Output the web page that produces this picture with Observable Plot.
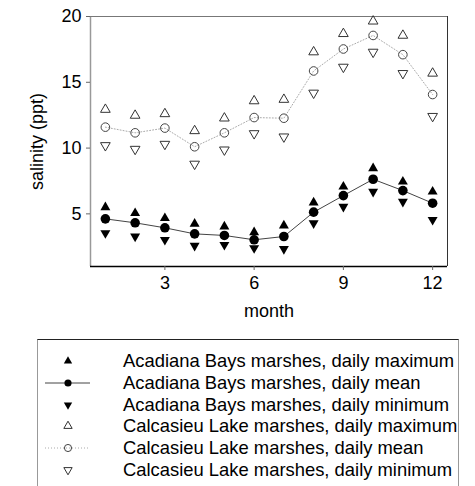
<!DOCTYPE html>
<html><head><meta charset="utf-8">
<script src="https://cdn.jsdelivr.net/npm/d3@7"></script>
<script src="https://cdn.jsdelivr.net/npm/@observablehq/plot@0.6"></script>
<style>
body{margin:0;background:#fff;font-family:"Liberation Sans",Arial,sans-serif;}
#legend{position:absolute;left:37px;top:339px;width:422px;height:160px;border-top:1px solid #222;border-left:1px solid #999;border-right:1px solid #999;padding-top:10px;box-sizing:border-box;}
.row{height:21.8px;display:flex;align-items:center;font-size:18.4px;color:#000;}
.row svg{width:85px;height:22px;flex:none;}
</style></head><body>
<div id="chart"></div>
<div id="legend"></div>
<script>
const months = [1,2,3,4,5,6,7,8,9,10,11,12];
const acadianaMax  = [5.5,5.05,4.67,4.24,4.04,3.6,4.11,5.86,7.07,8.46,7.45,6.69];
const acadianaMean = [4.62,4.32,3.94,3.48,3.36,3.03,3.28,5.13,6.39,7.63,6.77,5.81];
const acadianaMin  = [3.54,3.28,3.03,2.58,2.65,2.4,2.33,4.29,5.55,6.69,5.93,4.55];
const calcMax  = [12.93,12.48,12.6,11.31,12.27,13.58,13.69,17.3,18.69,19.64,18.56,15.68];
const calcMean = [11.59,11.16,11.52,10.1,11.16,12.32,12.27,15.86,17.53,18.56,17.1,14.07];
const calcMin  = [10.2,9.92,10.3,8.79,9.87,11.11,10.86,14.19,16.16,17.3,15.68,12.42];
const xTicks = [3,6,9,12];
const yTicks = [5,10,15,20];
const legendLabels = [
  "Acadiana Bays marshes, daily maximum",
  "Acadiana Bays marshes, daily mean",
  "Acadiana Bays marshes, daily minimum",
  "Calcasieu Lake marshes, daily maximum",
  "Calcasieu Lake marshes, daily mean",
  "Calcasieu Lake marshes, daily minimum"
];

const triDown = {
  draw(context, size) {
    const y = -Math.sqrt(size / (Math.sqrt(3) * 3));
    context.moveTo(0, -y * 2);
    context.lineTo(-Math.sqrt(3) * y, y);
    context.lineTo(Math.sqrt(3) * y, y);
    context.closePath();
  }
};
const rows = (vals) => months.map((m, i) => ({month: m, v: vals[i]}));

const chart = Plot.plot({
  width: 475, height: 330,
  marginTop: 16, marginLeft: 90, marginRight: 28, marginBottom: 64,
  style: {fontSize: "18px", fontFamily: "'Liberation Sans', Arial, sans-serif", color: "#000", background: "#fff"},
  x: {domain: [0.5, 12.5]},
  y: {domain: [1, 20]},
  marks: [
    Plot.ruleX([0.5], {stroke: "#999", strokeWidth: 1.5}),
    Plot.ruleX([12.5], {stroke: "#333"}),
    Plot.ruleY([20], {stroke: "#777"}),
    Plot.ruleY([1], {stroke: "#000", strokeWidth: 1.5}),
    Plot.axisX({ticks: xTicks, tickSize: 4, tickPadding: 6, stroke: "#666", label: "month", labelAnchor: "center", labelArrow: "none", labelOffset: 50}),
    Plot.axisY({ticks: yTicks, tickSize: 4, tickPadding: 5, stroke: "#666", label: "salinity (ppt)", labelAnchor: "center", labelArrow: "none", labelOffset: 60}),
    Plot.line(rows(calcMean), {x: "month", y: "v", stroke: "#aaa", strokeWidth: 1, strokeDasharray: "1,2"}),
    Plot.dot(rows(calcMax), {x: "month", y: "v", symbol: "triangle", r: 3.6, stroke: "#333", strokeWidth: 1, fill: "none"}),
    Plot.dot(rows(calcMin), {x: "month", y: "v", symbol: triDown, r: 3.6, stroke: "#333", strokeWidth: 1, fill: "none"}),
    Plot.dot(rows(calcMean), {x: "month", y: "v", r: 4.3, stroke: "#444", strokeWidth: 1, fill: "none"}),
    Plot.line(rows(acadianaMean), {x: "month", y: "v", stroke: "#444", strokeWidth: 1}),
    Plot.dot(rows(acadianaMax), {x: "month", y: "v", symbol: "triangle", r: 3.7, fill: "#000"}),
    Plot.dot(rows(acadianaMin), {x: "month", y: "v", symbol: triDown, r: 3.7, fill: "#000"}),
    Plot.dot(rows(acadianaMean), {x: "month", y: "v", r: 4.8, fill: "#000"})
  ]
});
document.getElementById("chart").appendChild(chart);

// legend
const legendSpecs = [
  {sym: d3.symbolTriangle, fill: "#000", stroke: "none", line: null},
  {sym: d3.symbolCircle, fill: "#000", stroke: "none", line: {stroke: "#444", dash: null}},
  {sym: triDown, fill: "#000", stroke: "none", line: null},
  {sym: d3.symbolTriangle, fill: "none", stroke: "#333", line: null},
  {sym: d3.symbolCircle, fill: "none", stroke: "#444", line: {stroke: "#aaa", dash: "1,2"}},
  {sym: triDown, fill: "none", stroke: "#333", line: null}
];
const leg = d3.select("#legend");
legendSpecs.forEach((s, i) => {
  const row = leg.append("div").attr("class", "row");
  const svg = row.append("svg");
  if (s.line) {
    svg.append("line").attr("x1", 7).attr("x2", 52).attr("y1", 11).attr("y2", 11)
      .attr("stroke", s.line.stroke).attr("stroke-dasharray", s.line.dash);
  }
  const size = s.sym === d3.symbolCircle ? 40 : 30;
  svg.append("path").attr("d", d3.symbol(s.sym, size)()).attr("transform", "translate(30,11)")
    .attr("fill", s.fill).attr("stroke", s.stroke);
  row.append("span").text(legendLabels[i]);
});
</script>
</body></html>
